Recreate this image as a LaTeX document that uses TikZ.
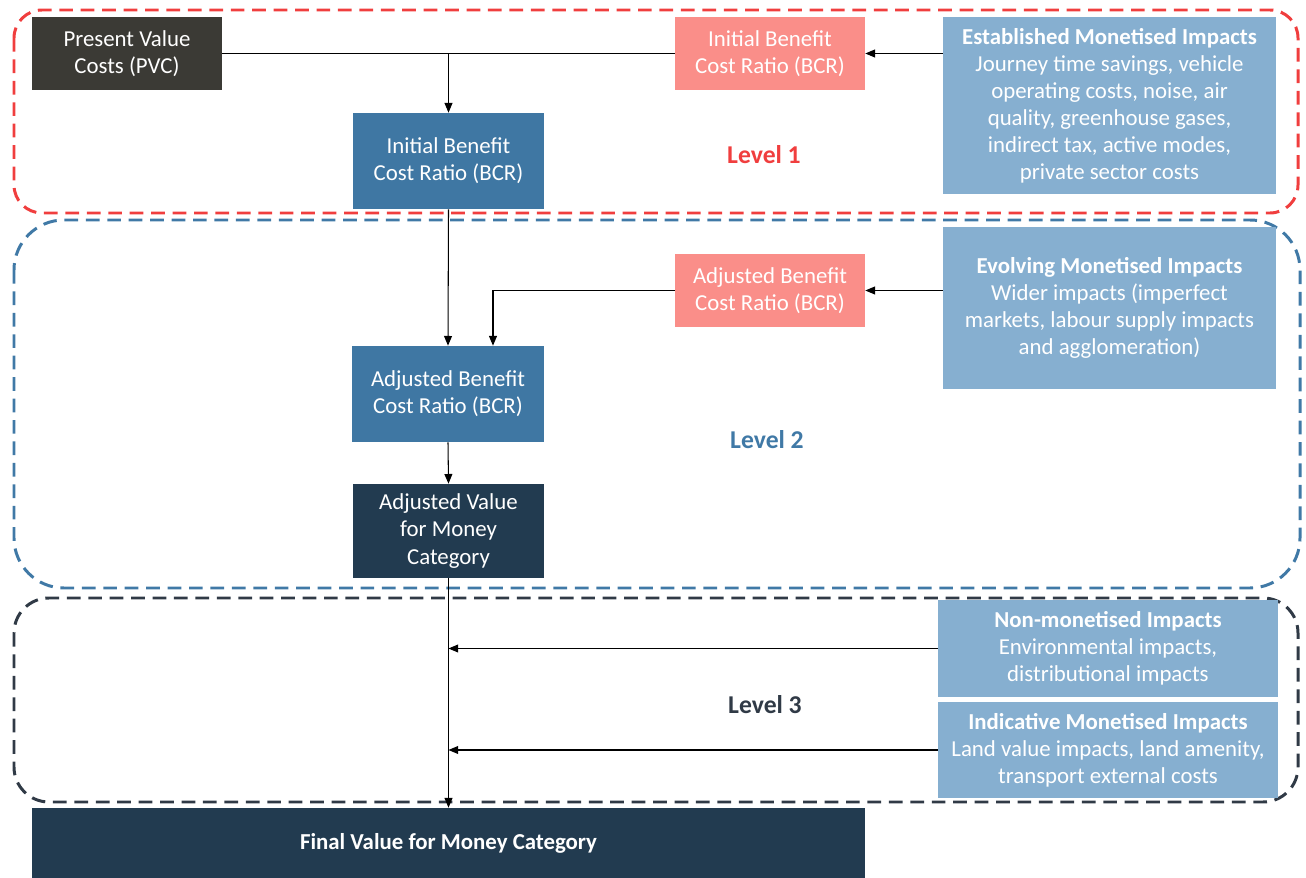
\documentclass[tikz,border=0pt]{standalone}
\usepackage{fontspec}
\setmainfont{Carlito}
\definecolor{lvred}{RGB}{240,62,62}
\definecolor{lvblue}{RGB}{64,121,166}
\definecolor{lvdark}{RGB}{48,58,70}
\definecolor{boxblue}{RGB}{63,119,163}
\definecolor{boxpink}{RGB}{250,142,137}
\definecolor{boxlight}{RGB}{134,175,208}
\definecolor{boxnavy}{RGB}{34,59,80}
\definecolor{boxgrey}{RGB}{59,58,53}
\usetikzlibrary{arrows.meta,positioning}
\tikzset{
  box/.style={draw=none, inner sep=0pt, align=center, text=white, font=\fontsize{13}{15.4}\selectfont},
  arr/.style={-{Triangle[length=5.5pt,width=4.5pt]}, line width=0.6pt, black},
  conn/.style={line width=0.6pt, black},
  level/.style={line width=1.7pt, dash pattern=on 7.8pt off 4.4pt},
  levellabel/.style={font=\fontsize{14.6}{16}\selectfont\bfseries}
}

\begin{document}
\begin{tikzpicture}[x=0.02cm, y=-0.02cm]
  \useasboundingbox (0,0) rectangle (1306,878);
  % Level frames
  \draw[level, lvred, rounded corners=0.56cm] (14,10) rectangle (1298,213);
  \draw[level, lvblue, rounded corners=1.0cm] (14,220) rectangle (1300,588);
  \draw[level, lvdark, rounded corners=0.7cm] (14,598) rectangle (1298,802);
  % Level 1
  \node[box, fill=boxgrey, minimum width=3.8cm, minimum height=1.46cm] (pvc) at (127,53.5) {Present Value\\Costs (PVC)};
  \node[box, fill=boxpink, minimum width=3.8cm, minimum height=1.46cm] (ibcrpink) at (770,53.5) {Initial Benefit\\Cost Ratio (BCR)};
  \node[box, fill=boxlight, minimum width=6.66cm, minimum height=3.54cm] (est) at (1109.5,105.5) {\textbf{Established Monetised Impacts}\\Journey time savings, vehicle\\operating costs, noise, air\\quality, greenhouse gases,\\indirect tax, active modes,\\private sector costs};
  \node[box, fill=boxblue, minimum width=3.82cm, minimum height=1.92cm] (ibcr) at (448.5,161) {Initial Benefit\\Cost Ratio (BCR)};
  \node[levellabel, text=lvred] (lev1) at (764,155) {Level 1};
  % Level 2
  \node[box, fill=boxpink, minimum width=3.8cm, minimum height=1.46cm] (abcrpink) at (770,290.5) {Adjusted Benefit\\Cost Ratio (BCR)};
  \node[box, fill=boxlight, minimum width=6.66cm, minimum height=3.24cm] (evo) at (1109.5,308) {\textbf{Evolving Monetised Impacts}\\Wider impacts (imperfect\\markets, labour supply impacts\\and agglomeration)};
  \node[box, fill=boxblue, minimum width=3.84cm, minimum height=1.92cm] (abcr) at (448,394) {Adjusted Benefit\\Cost Ratio (BCR)};
  \node[box, fill=boxnavy, minimum width=3.82cm, minimum height=1.88cm] (avfm) at (448.5,531) {Adjusted Value\\for Money\\Category};
  \node[levellabel, text=lvblue] (lev2) at (767,440) {Level 2};
  % Level 3
  \node[box, fill=boxlight, minimum width=6.8cm, minimum height=1.94cm] (nonmon) at (1108,648.5) {\textbf{Non-monetised Impacts}\\Environmental impacts,\\distributional impacts};
  \node[box, fill=boxlight, minimum width=6.8cm, minimum height=1.92cm] (indic) at (1108,750) {\textbf{Indicative Monetised Impacts}\\Land value impacts, land amenity,\\transport external costs};
  \node[levellabel, text=lvdark] (lev3) at (765,705) {Level 3};
  % Final
  \node[box, fill=boxnavy, minimum width=16.66cm, minimum height=1.4cm, font=\fontsize{13}{15.4}\selectfont\bfseries] (final) at (448.5,843) {Final Value for Money Category};
  % Connectors
  \draw[conn] (pvc.east) -- (ibcrpink.west);
  \draw[arr] (pvc.east -| ibcr.north) -- (ibcr.north);
  \draw[arr] (ibcrpink.east -| est.west) -- (ibcrpink.east);
  \draw[arr] (ibcr.south) -- (abcr.north);
  \draw[arr] (abcrpink.east -| evo.west) -- (abcrpink.east);
  \coordinate (abcrin) at ([xshift=0.9cm]abcr.north);
  \draw[arr] (abcrpink.west) -| (abcrin);
  \draw[arr] (abcr.south) -- (avfm.north);
  \draw[arr] (avfm.south) -- (final.north);
  \draw[arr] (nonmon.west) -- (nonmon.west -| avfm.south);
  \draw[arr] (indic.west) -- (indic.west -| avfm.south);
\end{tikzpicture}
\end{document}
